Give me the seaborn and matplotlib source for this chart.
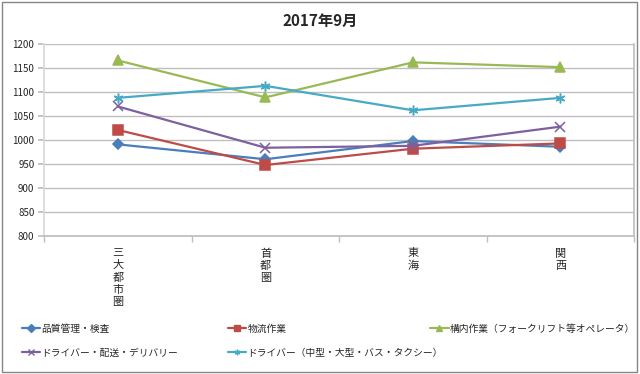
import numpy as np
import pandas as pd
import matplotlib
matplotlib.use('Agg')
import matplotlib.pyplot as plt
import seaborn as sns
from matplotlib.patches import Rectangle
from matplotlib.lines import Line2D

# data
regions = ['三大都市圏', '首都圏', '東海', '関西']
series_names = [
    '品質管理・検査',
    '物流作業',
    '構内作業（フォークリフト等オペレータ）',
    'ドライバー・配送・デリバリー',
    'ドライバー（中型・大型・バス・タクシー）',
]
quality = [991, 960, 998, 986]
logistics = [1021, 948, 982, 993]
yard_work = [1166, 1089, 1162, 1152]
driver_delivery = [1070, 984, 988, 1028]
driver_large = [1088, 1113, 1062, 1088]

colors = ['#4A7EBB', '#BE4B48', '#98B954', '#7D60A0', '#46AAC5']
markers = ['D', 's', '^', 'x', (6, 2, 0)]
msizes = [5, 6.5, 6.5, 6.5, 7]

sns.set_theme(style='white')
plt.rcParams['font.family'] = ['Noto Sans CJK JP', 'DejaVu Sans']

rows = []
for name, vals in zip(series_names, [quality, logistics, yard_work, driver_delivery, driver_large]):
    for i, v in enumerate(vals):
        rows.append({'series': name, 'x': i, 'value': v})
df = pd.DataFrame(rows)

fig = plt.figure(figsize=(6.4, 3.74), dpi=100)
ax = fig.add_axes([0.069, 0.369, 0.922, 0.513])

for name, c, m, ms in zip(series_names, colors, markers, msizes):
    sub = df[df['series'] == name]
    sns.lineplot(data=sub, x='x', y='value', ax=ax, color=c, marker=m, markersize=ms,
                 markeredgecolor=c, markeredgewidth=1.1, linewidth=1.6, legend=False)

ax.set_xlim(-0.5, 3.5)
ax.set_ylim(800, 1200)
ax.set_yticks(np.arange(800, 1201, 50))
ax.yaxis.grid(True, color='#BFBFBF', linewidth=1)
ax.set_xticks(range(len(regions)))
ax.set_xticklabels(['\n'.join(r) for r in regions], fontsize=8, linespacing=1.25, va='top')
ax.set_xticks(np.arange(-0.5, 4, 1), minor=True)
ax.tick_params(axis='x', which='major', length=0, pad=9)
ax.tick_params(axis='x', which='minor', length=4, color='#BFBFBF', direction='out', bottom=True)
ax.tick_params(axis='y', labelsize=7, length=4, color='#BFBFBF', left=True, pad=3)
ax.set_xlabel('')
ax.set_ylabel('')
ax.spines['top'].set_visible(False)
ax.spines['bottom'].set_color('#BFBFBF')
ax.spines['left'].set_color('#D9D9D9')
ax.spines['right'].set_color('#BFBFBF')

fig.text(0.5, 0.945, '2017年9月', ha='center', va='center', fontsize=11, fontweight='bold')

# legend laid out like the Excel one: three columns at fixed positions
handles = [Line2D([], [], color=c, marker=m, markersize=4, markeredgecolor=c, linewidth=1.6)
           for c, m in zip(colors, markers)]
col_pos = [0.034, 0.356, 0.672]
col_items = [[0, 3], [1, 4], [2]]
for xpos, idx in zip(col_pos, col_items):
    fig.legend([handles[i] for i in idx], [series_names[i] for i in idx],
               loc='upper left', bbox_to_anchor=(xpos, 0.135), frameon=False,
               fontsize=7, handlelength=1.9, handletextpad=0.1, labelspacing=1.45,
               borderaxespad=0, borderpad=0)

fig.patches.append(Rectangle((0.003, 0.005), 0.993, 0.99, transform=fig.transFigure,
                             fill=False, edgecolor='#868686', linewidth=1))

fig.savefig('out.png', dpi=100)
